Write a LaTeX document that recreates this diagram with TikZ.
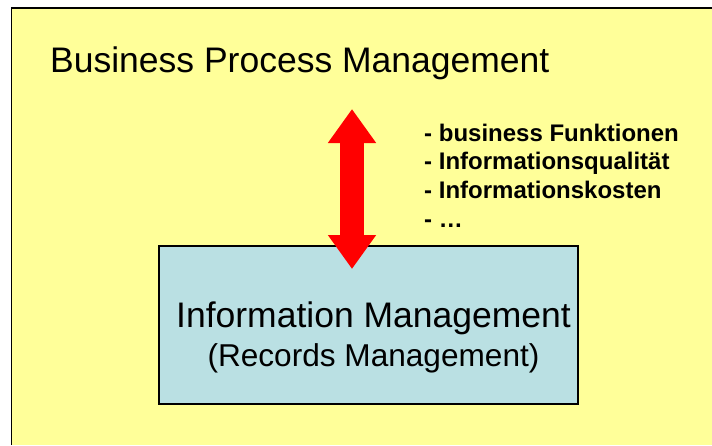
\documentclass[tikz,border=0pt]{standalone}
\usepackage{fontspec}
\setmainfont{Liberation Sans}
\usetikzlibrary{positioning}
\usetikzlibrary{arrows.meta}
\definecolor{bgyellow}{RGB}{255,255,153}
\definecolor{boxblue}{RGB}{186,224,227}

\begin{document}
\begin{tikzpicture}[
          x=1pt, y=-1pt, % 像素坐标
          every node/.style={inner sep=0pt},
          bigtext/.style={font=\fontsize{35.5}{40}\selectfont},
          itemtext/.style={font=\bfseries\fontsize{24}{28}\selectfont},
          bigarrow/.style={red, line width=24pt,
              {Triangle[length=34pt,width=46pt]}-{Triangle[length=34pt,width=46pt]}}
      ]
        \useasboundingbox (0,0) rectangle (712,445);
        % 背景和边框
        \fill[bgyellow] (11.5,8) rectangle (712,445);
        \draw[line width=1.5pt] (11.5,445) -- (11.5,8) -- (712,8);
        % 标题
        \node[bigtext, anchor=base west] (bpm) at (50,72) {Business Process Management};
        % 下面的方框和文字
        \node[draw, line width=1.2pt, fill=boxblue,
              minimum width=419pt, minimum height=158pt] (im) at (368.5,325) {};
        \node[bigtext, anchor=base] (imname) at (373.5,327) {Information Management};
        \node[anchor=base, font=\fontsize{31.6}{36}\selectfont] (rmname) at (373.5,366) {(Records Management)};
        % 右边的列表
        \foreach \t [count=\i] in {- business Funktionen, - Informationsqualität,
                                   - Informationskosten, - \ldots}
            \node[itemtext, anchor=base west] (item\i) at (424,141+28.7*\i-28.7) {\t};
        % 红色双箭头
        \coordinate (atop) at (352,109);
        \coordinate (abot) at (352,269);
        \draw[bigarrow] (atop) -- (abot);
      \end{tikzpicture}
\end{document}
